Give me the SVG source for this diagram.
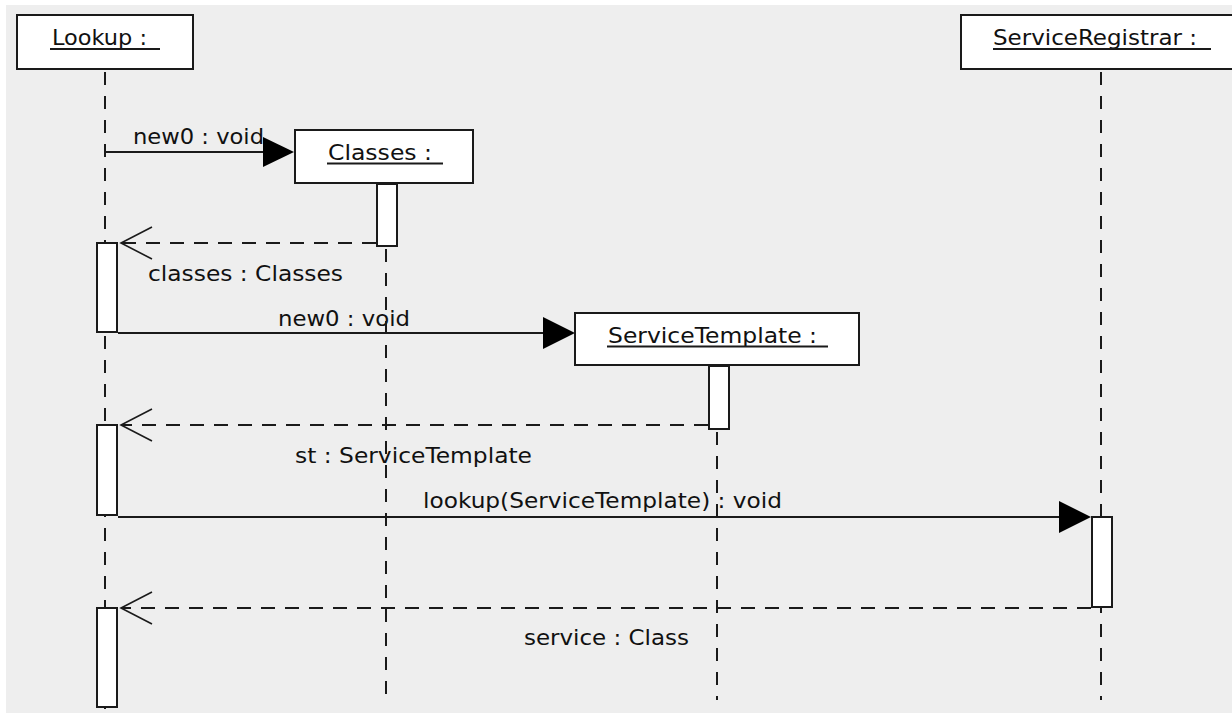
<svg xmlns="http://www.w3.org/2000/svg" width="1232" height="713" viewBox="0 0 1232 713">
  <style>
    .box { fill: #ffffff; stroke: #1a1a1a; stroke-width: 2; }
    .act { fill: #ffffff; stroke: #1a1a1a; stroke-width: 2; }
    .life { stroke: #1a1a1a; stroke-width: 2; stroke-dasharray: 13 11; fill: none; }
    .call { stroke: #1a1a1a; stroke-width: 2; fill: none; }
    .ret { stroke: #1a1a1a; stroke-width: 2; stroke-dasharray: 14 10; fill: none; }
    .open { stroke: #1a1a1a; stroke-width: 1.6; fill: none; }
    .head { fill: #000000; }
    .uline { stroke: #1a1a1a; stroke-width: 1.8; }
    text { font-family: "DejaVu Sans", "Noto Sans", sans-serif; font-size: 21px; fill: #111111; }
  </style>

  <!-- canvas -->
  <rect x="0" y="0" width="1232" height="713" fill="#ffffff"/>
  <rect x="6" y="5" width="1226" height="708" fill="#eeeeee"/>

  <!-- messages -->
  <g id="connectors">
    <!-- new0 : void to Classes -->
    <line class="call" x1="105" y1="152" x2="266" y2="152"/>
    <polygon class="head" points="294,152 263,137 263,167"/>
    <text x="133" y="144" textLength="131" lengthAdjust="spacingAndGlyphs">new0 : void</text>

    <!-- classes : Classes reply -->
    <line class="ret" x1="376" y1="243" x2="121" y2="243"/>
    <polyline class="open" points="152,227 121,243 152,259"/>
    <text x="148" y="281" textLength="195" lengthAdjust="spacingAndGlyphs">classes : Classes</text>

    <!-- new0 : void to ServiceTemplate -->
    <line class="call" x1="118" y1="333" x2="546" y2="333"/>
    <polygon class="head" points="575,333 543,317 543,349"/>
    <text x="278" y="326" textLength="132" lengthAdjust="spacingAndGlyphs">new0 : void</text>

    <!-- st : ServiceTemplate reply -->
    <line class="ret" x1="708" y1="425" x2="121" y2="425"/>
    <polyline class="open" points="152,409 121,425 152,441"/>
    <text x="295" y="463" textLength="237" lengthAdjust="spacingAndGlyphs">st : ServiceTemplate</text>

    <!-- lookup call to ServiceRegistrar -->
    <line class="call" x1="118" y1="517" x2="1062" y2="517"/>
    <polygon class="head" points="1091,517 1059,501 1059,533"/>
    <text x="423" y="508" textLength="359" lengthAdjust="spacingAndGlyphs">lookup(ServiceTemplate) : void</text>

    <!-- service : Class reply -->
    <line class="ret" x1="1091" y1="608" x2="121" y2="608"/>
    <polyline class="open" points="152,592 121,608 152,624"/>
    <text x="524" y="645" textLength="165" lengthAdjust="spacingAndGlyphs">service : Class</text>
  </g>

  <!-- Lookup object -->
  <g id="lookup">
    <line class="life" x1="105" y1="72" x2="105" y2="713"/>
    <rect class="box" x="17" y="15" width="176" height="54"/>
    <text x="52" y="45" textLength="95" lengthAdjust="spacingAndGlyphs">Lookup :</text>
    <line class="uline" x1="50" y1="49" x2="160" y2="49"/>
    <rect class="act" x="97" y="243" width="20" height="89"/>
    <rect class="act" x="97" y="425" width="20" height="90"/>
    <rect class="act" x="97" y="608" width="20" height="99"/>
  </g>

  <!-- Classes object -->
  <g id="classes">
    <line class="life" x1="386" y1="249" x2="386" y2="700"/>
    <rect class="box" x="295" y="130" width="178" height="53"/>
    <text x="328" y="160" textLength="104" lengthAdjust="spacingAndGlyphs">Classes :</text>
    <line class="uline" x1="327" y1="163.5" x2="443" y2="163.5"/>
    <rect class="act" x="377" y="184" width="20" height="62"/>
  </g>

  <!-- ServiceTemplate object -->
  <g id="serviceTemplate">
    <line class="life" x1="717" y1="432" x2="717" y2="700"/>
    <rect class="box" x="575" y="313" width="284" height="52"/>
    <text x="608" y="343" textLength="209" lengthAdjust="spacingAndGlyphs">ServiceTemplate :</text>
    <line class="uline" x1="607" y1="346.5" x2="828" y2="346.5"/>
    <rect class="act" x="709" y="366" width="20" height="63"/>
  </g>

  <!-- ServiceRegistrar object -->
  <g id="serviceRegistrar">
    <line class="life" x1="1101" y1="72" x2="1101" y2="700"/>
    <rect class="box" x="961" y="15" width="300" height="54"/>
    <text x="993" y="45" textLength="204" lengthAdjust="spacingAndGlyphs">ServiceRegistrar :</text>
    <line class="uline" x1="993" y1="49" x2="1211" y2="49"/>
    <rect class="act" x="1092" y="517" width="20" height="90"/>
  </g>
</svg>
